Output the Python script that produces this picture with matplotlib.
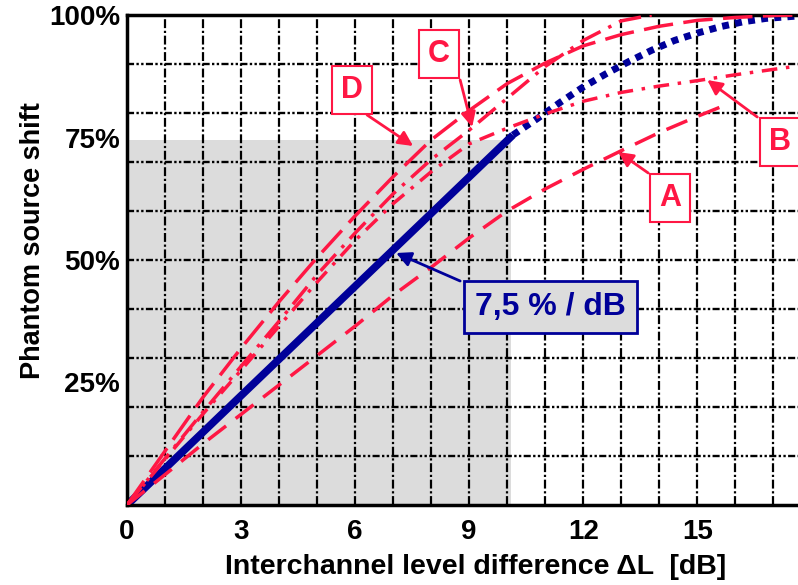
# Phantom source shift vs. interchannel level difference
import numpy as np
import matplotlib.pyplot as plt
from matplotlib.patches import Rectangle

plt.rcParams['font.family'] = ['Liberation Sans', 'DejaVu Sans']
plt.rcParams['font.weight'] = 'bold'

# datos (dB, %)
x_A = [0, 1, 2, 3, 4, 5, 6, 7, 8, 9, 10, 11, 12, 13, 14, 15, 15.7]
y_A = [0, 6.2, 12.5, 18.5, 24.5, 30.5, 36.5, 42.8, 48.5, 54.5, 60, 64.5, 68.5, 72.3, 76, 79.3, 81.5]

x_B = [0, 1, 2, 3, 4, 5, 6, 7, 8, 9, 10, 11, 12, 13, 14, 15, 16, 17, 17.65]
y_B = [0, 9.3, 18.6, 27.5, 36.5, 45.5, 54, 61.5, 68, 73.7, 76.9, 79.8, 82.4, 84.2, 85.5, 86.6, 87.8, 88.9, 89.6]

x_C = [0, 1, 2, 3, 4, 5, 6, 7, 8, 9, 10, 11, 12, 13, 13.8]
y_C = [0, 9.5, 19, 28.3, 37.5, 47, 55.5, 63.5, 70.5, 76.5, 83, 89.5, 94.8, 98.8, 100]

x_D = [0, 1, 2, 3, 4, 5, 6, 7, 8, 9, 10, 11, 12, 13, 14, 15, 16, 17, 17.65]
y_D = [0, 11, 22, 32, 41.5, 50.5, 59, 67, 74.5, 80.5, 86, 90.2, 93.7, 96, 97.7, 98.9, 99.5, 99.9, 100]

x_lin = [0, 10.15]
y_lin = [0, 75.5]
x_ext = [10.15, 10.8, 11.4, 12.0, 12.6, 13.2, 13.8, 14.4, 15.0, 15.6, 16.2, 16.8, 17.65]
y_ext = [75.5, 78.9, 82.2, 85.3, 88.0, 90.5, 92.8, 94.8, 96.3, 97.6, 98.6, 99.3, 99.8]

shade_x, shade_y = 10.1, 74.5
xticks = [0, 3, 6, 9, 12, 15]
yticks = [25, 50, 75, 100]
ylabels = ['25%', '50%', '75%', '100%']

red = '#ff1744'
navy = '#000099'
gray = '#dcdcdc'

W, H = 798, 585
fig = plt.figure(figsize=(W / 100, H / 100), dpi=100)
ax = fig.add_axes([127 / W, 1 - 505 / H, 671 / W, 490 / H])
ax.set_xlim(0, 17.65)
ax.set_ylim(0, 100)

# zona sombreada
ax.add_patch(Rectangle((0, 0), shade_x, shade_y, facecolor=gray, edgecolor='none', zorder=0.2))

# rejilla
for gx in range(1, 18):
    ax.axvline(gx, color='k', lw=1.6, ls=(0, (4, 1.2, 1, 1.2)), zorder=0.5)
for gy in range(10, 100, 10):
    ax.axhline(gy, color='k', lw=1.7, ls=(0, (3, 1, 1, 1, 1, 1)), zorder=0.5)

# curvas
ax.plot(x_lin, y_lin, '-', color=navy, lw=5.5, solid_capstyle='butt', zorder=2)
ax.plot(x_ext, y_ext, color=navy, lw=5, ls=(0, (1, 0.9)), dash_capstyle='butt', zorder=2)
ax.plot(x_A, y_A, color=red, lw=2.5, ls=(0, (6.5, 3.5)), zorder=3)
ax.plot(x_B, y_B, color=red, lw=2.5, ls=(0, (4.5, 2.5, 1, 2.5)), zorder=3)
ax.plot(x_C, y_C, color=red, lw=2.5, ls=(0, (6.5, 2.5, 1, 2.5)), zorder=3)
ax.plot(x_D, y_D, color=red, lw=2.5, ls=(0, (8.5, 3)), zorder=3)

# etiquetas con flechas
def px(x, y):
    return ((x - 127) / 38.0, (505 - y) / 4.9)

labels = [('D', (352, 90), (367, 115), (413, 146)),
          ('C', (439, 54), (460, 80), (472, 127)),
          ('B', (780, 142), (757, 117), (707, 80)),
          ('A', (670, 198), (648, 173), (618, 152))]
for txt, c, a0, a1 in labels:
    ax.annotate('', xy=px(*a1), xytext=px(*a0),
                arrowprops=dict(arrowstyle='-|>', color=red, lw=2, mutation_scale=22,
                                shrinkA=0, shrinkB=0), zorder=5, annotation_clip=False)
    ax.text(*px(*c), txt, color=red, fontsize=22, fontweight='bold', ha='center', va='center',
            bbox=dict(boxstyle='square,pad=0.3', facecolor='white', edgecolor=red, lw=1.5),
            zorder=6, clip_on=False)

ax.annotate('', xy=px(396, 253), xytext=px(460, 281),
            arrowprops=dict(arrowstyle='-|>', color=navy, lw=2, mutation_scale=22,
                            shrinkA=0, shrinkB=0), zorder=5)
ax.text(*px(550, 307), '7,5 % / dB', color=navy, fontsize=23, fontweight='bold',
        ha='center', va='center',
        bbox=dict(boxstyle='square,pad=0.35', facecolor=gray, edgecolor=navy, lw=2), zorder=6)

# ejes
for s in ['top', 'left', 'bottom']:
    ax.spines[s].set_linewidth(2.5)
ax.spines['right'].set_visible(False)
ax.set_xticks(xticks)
ax.set_yticks(yticks)
ax.set_yticklabels(ylabels)
ax.tick_params(length=0, labelsize=20)
ax.tick_params(axis='x', pad=10)
ax.tick_params(axis='y', pad=5)
ax.set_xlabel('Interchannel level difference ΔL  [dB]', fontsize=20.5, fontweight='bold')
ax.xaxis.set_label_coords(0.519, -0.1)
ax.set_ylabel('Phantom source shift', fontsize=19.5, fontweight='bold')
ax.yaxis.set_label_coords(-0.12, 0.54)

fig.savefig('out.png', dpi=100)
